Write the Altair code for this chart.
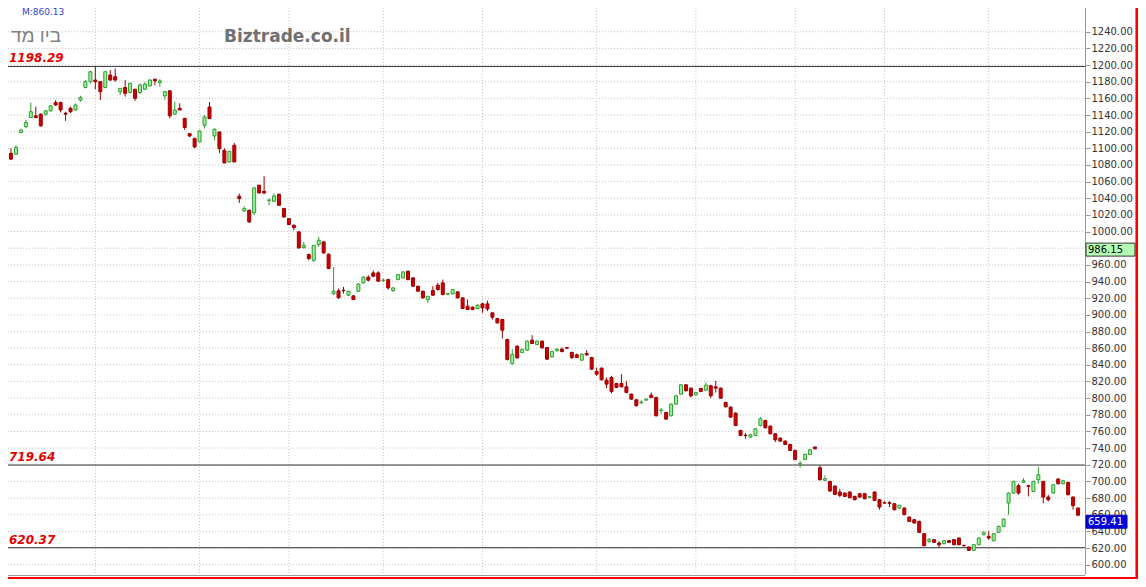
import altair as alt
import pandas as pd

# ---- candle data ----
opens = [1094, 1093, 1119, 1126, 1137, 1139, 1141, 1141, 1145, 1155, 1155, 1142, 1148, 1146, 1158, 1173, 1180, 1182, 1180, 1173,
         1188, 1186, 1168, 1173, 1167, 1171, 1167, 1171, 1175, 1183, 1179, 1163, 1169, 1141, 1148, 1136, 1117.6, 1111.6, 1107.6, 1127.6,
         1149.6, 1114.8, 1119.6, 1097.6, 1083.6, 1103.6, 1042.4, 1024.8, 1025.6, 1022.4, 1055.6, 1048.4, 1037.4, 1036.4, 1044.8, 1027.6, 1015.6, 1007.6, 999.6, 980.8,
         972.4, 965.6, 984.4, 987.6, 972.8, 925.6, 928.8, 929.5, 923.6, 922.8, 928.4, 938.4, 945.2, 950.4, 950.4, 941.2, 942.4, 929.2, 942.4, 944.4,
         952.4, 944.4, 934.4, 928.4, 918.4, 929.2, 935.6, 938.4, 924.8, 925.2, 927.6, 920.4, 910.4, 909.2, 907.6, 913.2, 913.2, 902.4, 895.6, 894.4,
         870.4, 841.2, 862.4, 854.8, 857.6, 869.6, 864.4, 868.4, 860.8, 849.6, 856.8, 858.8, 860.8, 854.8, 852, 845.6, 853.6, 848.8, 832, 836,
         821.6, 824.8, 817.6, 817.6, 813.6, 804.8, 798, 794.4, 797.6, 803.6, 800.8, 785.2, 782.8, 778.8, 792.8, 804.8, 816, 812, 804, 811.6,
         809.6, 814.8, 813.6, 812, 794.8, 789.2, 782, 761.2, 755.5, 753.2, 755.2, 767.2, 773.2, 766.4, 757.2, 752, 748.4, 744.4, 737.2, 720.8,
         726.4, 732.4, 741.2, 716.4, 701.2, 700, 694.4, 687.2, 686, 687.2, 682, 685.2, 685.2, 681, 687.2, 678, 674.4, 674.4, 673.2, 668,
         668, 657.2, 654, 652, 637.2, 628, 630, 626, 625.2, 628.8, 630, 632, 623.2, 621.2, 617.2, 624, 636, 634, 628.8, 638.8,
         646, 674, 686, 694.8, 698.8, 694.8, 688, 702, 700, 681.2, 686, 702.8, 697.2, 698.8, 681.2, 668]
highs = [1100, 1104, 1123, 1134, 1155, 1150, 1142, 1146, 1152, 1158, 1156, 1144, 1150, 1154, 1163, 1182, 1193, 1198.29, 1180, 1192,
         1194, 1196, 1172, 1182, 1179, 1171, 1178, 1180, 1183, 1183, 1183, 1169, 1170, 1156, 1154, 1136.5, 1118.5, 1113, 1122, 1140,
         1155.6, 1124, 1120, 1100, 1096.4, 1106.4, 1045.6, 1030.4, 1026.5, 1053.5, 1056.4, 1066.4, 1039.6, 1045.6, 1045.5, 1028.5, 1016, 1008.5, 1000.5, 987.6,
         973.6, 983.6, 993.6, 988.5, 973.5, 957.6, 931.6, 933.6, 929, 923.5, 938, 946.4, 947.6, 953.2, 952.4, 943.6, 943, 933.2, 949, 952.4,
         953.2, 945, 935, 929, 922.4, 934.4, 938.4, 942.4, 926.5, 931, 928.4, 921, 918.4, 910, 912.4, 914.4, 917.2, 903, 896.4, 895,
         871.6, 858.4, 863.2, 859.5, 869.2, 875.6, 869.2, 869.2, 861.6, 856.8, 860, 860.8, 861.5, 856, 853.6, 853.6, 857.6, 849.6, 836.8, 837,
         824.8, 826.8, 818.4, 828.8, 820.8, 805.6, 798.8, 797.6, 799.6, 806.8, 801.6, 788, 783.6, 793.6, 803.6, 816.8, 816.8, 812.8, 807.6, 812.4,
         818.8, 816, 820.8, 812.8, 795.6, 790, 782.8, 762, 758, 757, 764, 777.2, 774, 767.2, 758, 752.8, 749.2, 745.2, 738, 724.4,
         733.2, 739, 742, 719.2, 707.2, 700.8, 695.2, 691.2, 686.8, 688, 682.8, 686, 686, 682.4, 688, 678.8, 676, 676.4, 674, 672,
         669, 658, 654.8, 652.8, 638, 632, 630.8, 628, 629.6, 629.6, 630.8, 632.8, 624, 622, 624.8, 632.8, 640, 640, 638, 646.8,
         655.6, 686.8, 700.8, 697.2, 704, 695.5, 700.8, 717.2, 700.8, 684, 696.8, 704, 701.6, 699.6, 682, 668.8]
lows = [1086, 1092, 1118, 1124, 1137, 1136, 1126, 1139, 1144, 1151, 1143, 1133, 1142, 1145, 1156, 1172, 1178, 1171, 1158, 1172,
        1181, 1180, 1164, 1162, 1166, 1157, 1165, 1170, 1174, 1176, 1174, 1158, 1136, 1140, 1146, 1122, 1113.5, 1100, 1107.6, 1124,
        1135.6, 1109.6, 1094.4, 1082.4, 1083, 1083.6, 1034.4, 1023.6, 1010.4, 1020, 1045.6, 1044.8, 1031.6, 1035.6, 1031, 1016.5, 1007.5, 1001.6, 979.5, 979.6,
        965.6, 963.6, 981.6, 973.5, 955, 923.6, 919.6, 925.6, 922.5, 918, 927.6, 937.2, 940.4, 945.2, 939.6, 939.6, 930.4, 927.6, 941.6, 943.6,
        941.6, 933.6, 927.6, 919.6, 914.4, 922.8, 929.2, 923.6, 924, 924.4, 919.6, 907, 905.6, 905.6, 906.8, 902.4, 904.4, 894.4, 889.6, 871.6,
        845.2, 840.4, 847.6, 854, 856.8, 864.8, 863.6, 859.6, 846, 848.8, 856, 854.8, 858.8, 846.8, 848, 844.8, 850.8, 834, 826.8, 821.2,
        812, 805.6, 812, 812.8, 805.6, 798, 790, 792.8, 796.8, 800, 778, 780.8, 774, 778, 792, 804, 808, 800.8, 803.2, 807.2,
        808.8, 800, 806.8, 799.2, 788.8, 776.4, 766.4, 754.4, 751.2, 752.4, 754.4, 766, 763.6, 756.4, 747.2, 747.6, 743.6, 736.4, 725.6, 716.4,
        725.6, 731.6, 738.4, 701.2, 700.8, 687.6, 683.6, 681.2, 681.2, 679.6, 677.2, 680.4, 678.4, 679.6, 676.4, 666, 673.2, 669.2, 665.2, 667.2,
        659.5, 651.2, 649.2, 638, 622, 626, 626, 620, 624.4, 626, 623.2, 623.2, 621.6, 616.4, 616.4, 623.2, 635.2, 630, 628, 638,
        645.2, 660, 685.2, 684, 698, 682, 687.2, 697.2, 674, 676, 685.2, 696.4, 696.4, 683.2, 666, 658.8]
closes = [1087, 1101, 1122, 1131, 1144, 1137, 1127, 1145, 1151, 1152, 1146, 1141, 1144, 1152, 1161, 1180, 1192, 1180, 1168, 1192,
          1182, 1182, 1172, 1166, 1178, 1160, 1176, 1177, 1182, 1181, 1181, 1168, 1139, 1146, 1146, 1125, 1114.8, 1101.6, 1120.8, 1137.6,
          1135.6, 1122.8, 1099.6, 1082.4, 1096.4, 1083.6, 1039.6, 1027.6, 1011.6, 1052.4, 1046.4, 1046.4, 1038, 1042.8, 1031.6, 1017.6, 1008.4, 1004.8, 980.4, 983.6,
          967.6, 983.6, 989.6, 974.4, 955.6, 928.4, 920.4, 929, 928.4, 918.4, 937, 945.2, 941.6, 946.4, 940.4, 941.8, 932.4, 932.4, 948.4, 951.6,
          942.4, 934.4, 928.4, 920.4, 922.4, 923.6, 930.4, 924.4, 925.6, 930.4, 920.4, 907.6, 906.4, 906.4, 911.6, 908.4, 907.2, 897.2, 890.4, 881.6,
          846.4, 852.4, 848.4, 858.4, 868.4, 865.6, 868.4, 860.4, 846.8, 856, 858.8, 856, 860, 848.8, 848.8, 852.8, 852, 834.8, 828.8, 822,
          816.8, 808, 812.8, 813.6, 806.8, 798.8, 790.8, 795.2, 798.8, 800.8, 778.8, 785.8, 774.8, 792.8, 802.8, 816, 808.8, 802.8, 806.8, 808,
          815.6, 802.8, 812, 800, 789.6, 777.2, 767.2, 755.2, 755, 756, 763.2, 775.2, 764.4, 757.2, 750, 748.4, 744.4, 737.2, 726.4, 721.6,
          732.4, 738, 739.2, 702, 703.2, 688.4, 684.4, 683.2, 682, 680.4, 678, 681.2, 679.2, 681.6, 677.2, 669.2, 674, 673.6, 666, 671.2,
          660, 652, 650, 638.8, 622.8, 630, 626.8, 624, 628.8, 626.8, 624, 624, 622.8, 617.2, 624, 632, 638.8, 632, 637.2, 646,
          654.8, 686, 700, 686, 700.8, 694, 700, 708, 681.2, 678, 696, 697.2, 700.8, 684, 670.8, 659.41]

# ---- reference lines, labels, grid ----
vgrid_idx = [17, 38, 56, 75, 95, 118, 138, 158, 176, 197]
ygrid_values = list(range(600, 1241, 20))
# the 980 label sits under the green price box in the reference
ytick_values = [v for v in ygrid_values if v != 980]
levels = [1198.29, 719.64, 620.37]
level_labels = ["1198.29", "719.64", "620.37"]
box_green_value = [986.15]
box_green_label = ["986.15"]
box_blue_value = [659.41]
box_blue_label = ["659.41"]
title_he = ["ביו מד"]
watermark = ["Biztrade.co.il"]
ma_label = ["M:860.13"]

W, H = 1077, 567
PX_PER_UNIT = 567 / (1268.5 - 587.6)

df = pd.DataFrame({"i": list(range(len(opens))), "open": opens, "high": highs,
                   "low": lows, "close": closes})
df["dir"] = ["up" if c >= o else "down" for o, c in zip(opens, closes)]

xs = alt.Scale(domain=[-0.6, 216.4], nice=False, zero=False, padding=0)
ys = alt.Scale(domain=[587.6, 1268.5], nice=False, zero=False, padding=0)

yaxis = alt.Axis(orient="right", values=ytick_values, format=".2f", grid=False,
                 domain=False, ticks=True, tickSize=5, tickColor="#999999",
                 labelFont="DejaVu Sans", labelFontSize=10, labelColor="#333333",
                 labelPadding=1, labelOverlap=False, labelFlush=False, title=None)


def X(f):
    return alt.X(f, type="quantitative", scale=xs, axis=None)


def Y(f):
    return alt.Y(f, type="quantitative", scale=ys, axis=yaxis)


one = pd.DataFrame({"a": [0]})

# red frame strips (right & bottom, as far as the page allows)
frame_r = alt.Chart(one).mark_rect(fill="#ff0000").encode(
    x=alt.value(1128), x2=alt.value(1130), y=alt.value(0), y2=alt.value(571))
frame_b = alt.Chart(one).mark_rect(fill="#ff0000").encode(
    x=alt.value(0), x2=alt.value(1130), y=alt.value(569), y2=alt.value(571))

hgrid = alt.Chart(pd.DataFrame({"v": ygrid_values})).mark_rule(
    color="#c4c4c4", strokeDash=[1, 2], strokeWidth=1).encode(
    y=Y("v"), x=alt.value(0), x2=alt.value(W))

vgrid = alt.Chart(pd.DataFrame({"i": vgrid_idx})).mark_rule(
    color="#c4c4c4", strokeDash=[1, 2], strokeWidth=1).encode(
    x=X("i"), y=alt.value(0), y2=alt.value(H))

lvl_df = pd.DataFrame({"v": levels, "t": level_labels})
lvl_lines = alt.Chart(lvl_df).mark_rule(color="#333333", strokeWidth=1).encode(
    y=Y("v"), x=alt.value(0), x2=alt.value(W))
lvl_text = alt.Chart(lvl_df).mark_text(
    align="left", baseline="alphabetic", dy=-4, font="DejaVu Sans", fontSize=12,
    fontStyle="italic", fontWeight="bold", color="#e60000").encode(
    x=alt.value(1), y=Y("v"), text="t:N")

stroke_scale = alt.Scale(domain=["down", "up"], range=["#990000", "#2f9f2f"])
fill_scale = alt.Scale(domain=["down", "up"], range=["#cc0000", "#9cef9c"])

wicks = alt.Chart(df).mark_rule(strokeWidth=1).encode(
    x=X("i"), y=Y("low"), y2="high",
    stroke=alt.Stroke("dir:N", scale=stroke_scale, legend=None))
bodies = alt.Chart(df).mark_bar(size=3, strokeWidth=1).encode(
    x=X("i"), y=Y("open"), y2="close",
    fill=alt.Fill("dir:N", scale=fill_scale, legend=None),
    stroke=alt.Stroke("dir:N", scale=stroke_scale, legend=None))

t_ma = alt.Chart(pd.DataFrame({"t": ma_label})).mark_text(
    align="left", baseline="alphabetic", font="DejaVu Sans", fontSize=9,
    color="#3344dd").encode(x=alt.value(14), y=alt.value(6.5), text="t:N")
t_he = alt.Chart(pd.DataFrame({"t": title_he})).mark_text(
    align="left", baseline="alphabetic", font="Liberation Sans", fontSize=19,
    color="#808080").encode(x=alt.value(3), y=alt.value(34), text="t:N")
t_wm = alt.Chart(pd.DataFrame({"t": watermark})).mark_text(
    align="left", baseline="alphabetic", font="DejaVu Sans", fontSize=17,
    fontWeight="bold", color="#707070").encode(x=alt.value(216), y=alt.value(33.5), text="t:N")

# borders
b_right = alt.Chart(one).mark_rule(color="#999999").encode(
    x=alt.value(W + 0.5), y=alt.value(0), y2=alt.value(H))
b_panel = alt.Chart(one).mark_rule(color="#999999").encode(
    x=alt.value(1127.5), y=alt.value(0), y2=alt.value(569))
b_bottom = alt.Chart(one).mark_rule(color="#999999").encode(
    y=alt.value(H + 0.5), x=alt.value(0), x2=alt.value(W))

# price boxes
box_h = 13 / PX_PER_UNIT
gdf = pd.DataFrame({"v": box_green_value, "t": box_green_label})
gdf["v2"] = gdf["v"] - box_h
bdf = pd.DataFrame({"v": box_blue_value, "t": box_blue_label})
bdf["v2"] = bdf["v"] - box_h

g_box = alt.Chart(gdf).mark_rect(fill="#b4ffb4", stroke="#333333", strokeWidth=1).encode(
    x=alt.value(1078), x2=alt.value(1127), y=Y("v"), y2="v2")
g_txt = alt.Chart(gdf).mark_text(align="left", baseline="middle", dy=6.5,
                                 font="DejaVu Sans", fontSize=10, color="#000000").encode(
    x=alt.value(1080), y=Y("v"), text="t:N")
b_box = alt.Chart(bdf).mark_rect(fill="#0000dd", stroke="#0000aa", strokeWidth=1).encode(
    x=alt.value(1078), x2=alt.value(1119), y=Y("v"), y2="v2")
b_txt = alt.Chart(bdf).mark_text(align="left", baseline="middle", dy=6.5,
                                 font="DejaVu Sans", fontSize=10, color="#ffffff").encode(
    x=alt.value(1080), y=Y("v"), text="t:N")

chart = alt.layer(
    hgrid, vgrid, lvl_lines, wicks, bodies, lvl_text, t_ma, t_he, t_wm,
    b_right, b_panel, b_bottom, g_box, g_txt, b_box, b_txt, frame_r, frame_b
).properties(
    width=W, height=H,
    autosize=alt.AutoSizeParams(type="none"),
    padding={"left": 0, "top": 0, "right": 53, "bottom": 4},
    background="#ffffff",
).configure_view(stroke=None)

chart.save("out.html", embed_options={"renderer": "svg", "actions": False})
